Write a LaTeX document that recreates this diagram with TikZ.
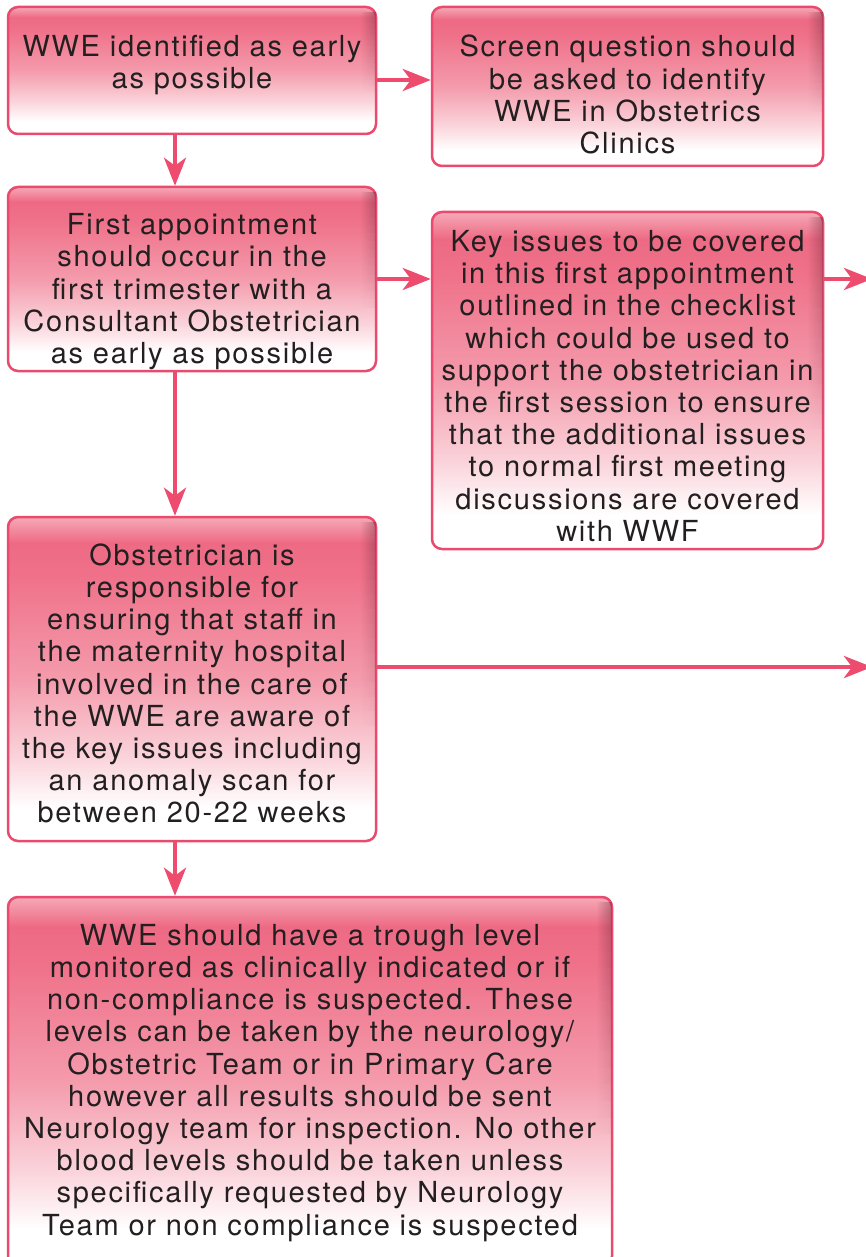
\documentclass[tikz,border=0pt]{standalone}
\usepackage{fontspec}
\setmainfont{TeX Gyre Heros}[LetterSpace=6]
\usetikzlibrary{arrows.meta,fadings}
\definecolor{edge}{HTML}{E94A6D}
\definecolor{arrowc}{HTML}{EE4C6F}
\definecolor{txt}{HTML}{231F20}
\definecolor{pkT}{HTML}{F5A9B7}
\definecolor{pkA}{HTML}{EE6A84}
\definecolor{pkB}{HTML}{EF7189}
\definecolor{pkC}{HTML}{F49BAC}
\definecolor{pkD}{HTML}{FAD3DA}
\definecolor{shadowc}{HTML}{6A2A3A}
\pgfdeclareverticalshading{boxshade}{100bp}{color(0bp)=(white); color(30bp)=(white); color(38bp)=(pkD); color(50bp)=(pkC); color(66bp)=(pkB); color(71bp)=(pkA); color(75bp)=(pkT); color(100bp)=(pkT)}
\tikzfading[name=shadeR, left color=transparent!100, right color=transparent!0]
\tikzset{
  flowbox/.style={draw=edge, line width=2.5pt, rounded corners=10pt, shading=boxshade, inner sep=0pt},
  boxtext/.style={align=center, inner sep=0pt, text=txt, anchor=north,
    font=\fontsize{29}{32.2}\selectfont},
  arr/.style={draw=arrowc, line width=4.5pt, -{Stealth[length=28pt,width=22pt,inset=8pt]}}
}
% inner shadow along the right edge, upper part of a box: #1 node, #2 box height
\newcommand{\innershade}[2]{%
  \foreach \i in {0,...,13} {%
    \pgfmathsetmacro{\op}{0.42*(1-\i/14)}%
    \pgfmathsetmacro{\ya}{6+\i*0.045*#2}%
    \pgfmathsetmacro{\yb}{6+(\i+1)*0.045*#2}%
    \fill[shadowc, fill opacity=\op, path fading=shadeR]
      ([xshift=-17pt, yshift=-\ya pt]#1.north east) rectangle ([xshift=-1.3pt, yshift=-\yb pt]#1.north east);
  }%
}
\begin{document}
\begin{tikzpicture}[x=1pt,y=-1pt]
\useasboundingbox (0,0) rectangle (866,1257);
\node[flowbox, minimum width=368pt, minimum height=127pt] (b1) at (192,70.5) {};
\node[flowbox, minimum width=391pt, minimum height=159pt] (b2) at (627.5,86.5) {};
\node[flowbox, minimum width=368pt, minimum height=184pt] (b3) at (192,279) {};
\node[flowbox, minimum width=391pt, minimum height=337pt] (b4) at (627.5,380.5) {};
\node[flowbox, minimum width=368pt, minimum height=324pt] (b5) at (192,679) {};
\node[flowbox, minimum width=604pt, minimum height=369pt] (b6) at (310,1081.5) {};
\innershade{b1}{127}
\innershade{b2}{159}
\innershade{b3}{184}
\innershade{b4}{337}
\innershade{b5}{324}
\innershade{b6}{369}
\node[boxtext, yshift=-28pt] (t1) at (b1.north)
  {\strut WWE identified as early\\as possible};
\node[boxtext, yshift=-28.5pt] (t2) at (b2.north)
  {\strut Screen question should\\be asked to identify\\WWE in Obstetrics\\Clinics};
\node[boxtext, yshift=-26.3pt] (t3) at (b3.north)
  {\strut First appointment\\should occur in the\\first trimester with a\\Consultant Obstetrician\\as early as possible};
\node[boxtext, yshift=-18pt] (t4) at (b4.north)
  {\strut Key issues to be covered\\in this first appointment\\outlined in the checklist\\which could be used to\\support the obstetrician in\\the first session to ensure\\that the additional issues\\to normal first meeting\\discussions are covered\\with WWF};
\node[boxtext, yshift=-26.8pt] (t5) at (b5.north)
  {\strut Obstetrician is\\responsible for\\ensuring that staff in\\the maternity hospital\\involved in the care of\\the WWE are aware of\\the key issues including\\an anomaly scan for\\between 20-22 weeks};
\node[boxtext, yshift=-26.8pt] (t6) at (b6.north)
  {\strut WWE should have a trough level\\monitored as clinically indicated or if\\non-compliance is suspected. These\\levels can be taken by the neurology/\\Obstetric Team or in Primary Care\\however all results should be sent\\Neurology team for inspection. No other\\blood levels should be taken unless\\specifically requested by Neurology\\Team or non compliance is suspected};
\coordinate (out1) at (872,279);
\coordinate (out2) at (872,667);
\draw[arr] (b1.east |- 0,80) -- (b2.west |- 0,80);
\draw[arr] (b1.south -| 175,0) -- (b3.north -| 175,0);
\draw[arr] (b3.east |- 0,279) -- (b4.west |- 0,279);
\draw[arr] (b4.east |- out1) -- (out1);
\draw[arr] (b3.south -| 175,0) -- (b5.north -| 175,0);
\draw[arr] (b5.east |- out2) -- (out2);
\draw[arr] (b5.south -| 175,0) -- (b6.north -| 175,0);
\end{tikzpicture}
\end{document}
